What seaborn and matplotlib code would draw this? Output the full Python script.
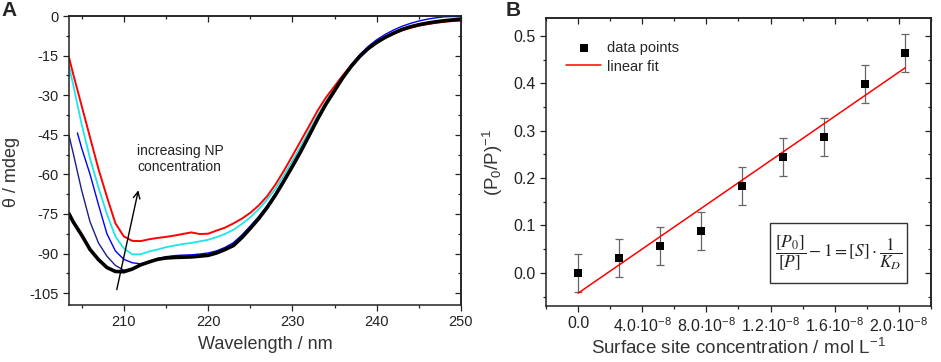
import numpy as np
import matplotlib
matplotlib.use("Agg")
import matplotlib.pyplot as plt
from matplotlib.patches import Rectangle
from matplotlib.ticker import MultipleLocator, FormatStrFormatter
import seaborn as sns

# ---- panel A: CD spectra ----
wavelength = [203.5] + list(range(204, 251))
wavelength_blue = [204.5] + list(range(205, 251))

theta_black = [-74.9, -78, -83, -88.5, -92.3, -95.3, -96.8, -96.9, -95.9, -94.3,
               -93.2, -92.2, -91.7, -91.5, -91.4, -91.3, -91.0, -90.7, -89.8, -88.5,
               -87.0, -84.0, -80.5, -76.8, -72.6, -67.8, -62.5, -57.0, -51.3, -45.2,
               -39.0, -33.3, -28.3, -23.3, -19.0, -15.3, -12.3, -10.0, -8.1, -6.5,
               -5.1, -4.1, -3.3, -2.7, -2.2, -1.8, -1.5, -1.3]
theta_navy = [-45.2, -52, -66, -78, -86, -91, -94.5, -96.3, -95.8, -94.2,
              -93.0, -92.0, -91.5, -91.3, -91.2, -91.1, -90.8, -90.5, -89.6, -88.3,
              -86.8, -83.8, -80.3, -76.6, -72.4, -67.6, -62.3, -56.8, -51.1, -45.0,
              -38.8, -33.1, -28.1, -23.1, -18.8, -15.1, -12.1, -9.8, -7.9, -6.3,
              -4.9, -3.9, -3.1, -2.5, -2.0, -1.6, -1.3, -1.1]
theta_blue = [-44.3, -50, -60, -71.5, -82.5, -89, -92.2, -93.5, -93.9, -93.0,
              -92.0, -91.2, -90.8, -90.6, -90.5, -90.2, -89.8, -89.0, -87.7, -85.9,
              -83.0, -79.6, -76.0, -71.9, -67.2, -61.9, -56.4, -50.7, -44.6, -38.6,
              -32.8, -27.6, -22.7, -18.3, -14.6, -11.5, -9.0, -7.0, -5.3, -3.9,
              -2.8, -1.9, -1.2, -0.7, -0.3, -0.2, -0.3]
theta_cyan = [-19.2, -26, -41, -54, -65, -75, -83.5, -88, -90.3, -90.3,
              -89.2, -88.5, -87.6, -87.0, -86.4, -86.0, -85.4, -84.8, -83.8, -82.6,
              -81.0, -78.8, -76.3, -73.2, -69.6, -65.4, -60.3, -54.9, -49.3, -43.4,
              -37.6, -32.3, -27.7, -23.0, -18.9, -15.2, -12.2, -9.9, -8.0, -6.4,
              -5.0, -4.0, -3.2, -2.6, -2.1, -1.7, -1.4, -1.2]
theta_red = [-15.7, -22, -34, -46, -58, -68.5, -78.5, -83.5, -85.2, -85.3,
             -84.6, -84.1, -83.7, -83.2, -82.6, -82.0, -82.6, -82.5, -81.3, -80.2,
             -78.6, -76.8, -74.6, -71.8, -68.3, -63.8, -58.6, -53.0, -47.3, -41.6,
             -35.8, -30.8, -26.6, -22.4, -18.6, -15.3, -12.5, -10.2, -8.3, -6.8,
             -5.5, -4.5, -3.7, -3.1, -2.6, -2.2, -1.9, -1.7]

# ---- panel B: binding plot (x in units of 1e-9 mol/L) ----
conc = [0.0, 2.58, 5.12, 7.64, 10.23, 12.77, 15.31, 17.87, 20.37]
ratio = [0.0, 0.031, 0.056, 0.088, 0.183, 0.244, 0.287, 0.399, 0.465]
ratio_err = [0.04, 0.04, 0.04, 0.04, 0.04, 0.04, 0.04, 0.04, 0.04]
fit_x = [0.0, 20.4]
fit_y = [-0.043, 0.433]
xtick_pos = [0, 4, 8, 12, 16, 20]
xtick_labels = ["0.0", r"4.0$\cdot$10$^{-8}$", r"8.0$\cdot$10$^{-8}$",
                r"1.2$\cdot$10$^{-8}$", r"1.6$\cdot$10$^{-8}$", r"2.0$\cdot$10$^{-8}$"]

sns.set_style("ticks")
plt.rcParams["font.family"] = ["Liberation Sans", "DejaVu Sans"]
plt.rcParams["mathtext.fontset"] = "custom"
plt.rcParams["mathtext.rm"] = "Liberation Sans"
plt.rcParams["mathtext.it"] = "Liberation Sans:italic"
plt.rcParams["mathtext.bf"] = "Liberation Sans:bold"
plt.rcParams["axes.unicode_minus"] = False
plt.rcParams["axes.linewidth"] = 1.1
plt.rcParams["axes.edgecolor"] = "#222222"

fig = plt.figure(figsize=(9.41, 3.62), dpi=100)
axA = fig.add_axes([0.0733, 0.1575, 0.4166, 0.7983])
axB = fig.add_axes([0.5802, 0.1547, 0.4091, 0.7956])

tc = "#222222"


def style_ticks(ax, xmaj, xmin, ymaj, ymin, size):
    ax.xaxis.set_major_locator(MultipleLocator(xmaj))
    ax.xaxis.set_minor_locator(MultipleLocator(xmin))
    ax.yaxis.set_major_locator(MultipleLocator(ymaj))
    ax.yaxis.set_minor_locator(MultipleLocator(ymin))
    ax.tick_params(which="major", direction="out", length=4.5, width=0.9,
                   labelsize=size, colors=tc, pad=3)
    ax.tick_params(which="minor", direction="out", length=2.5, width=0.9, colors=tc)
    # mirrored ticks pointing inwards on top / right
    top = ax.secondary_xaxis("top")
    top.xaxis.set_major_locator(MultipleLocator(xmaj))
    top.xaxis.set_minor_locator(MultipleLocator(xmin))
    top.tick_params(which="major", direction="in", length=4.5, width=0.9,
                    labeltop=False, colors=tc)
    top.tick_params(which="minor", direction="in", length=2.5, width=0.9, colors=tc)
    right = ax.secondary_yaxis("right")
    right.yaxis.set_major_locator(MultipleLocator(ymaj))
    right.yaxis.set_minor_locator(MultipleLocator(ymin))
    right.tick_params(which="major", direction="in", length=4.5, width=0.9,
                      labelright=False, colors=tc)
    right.tick_params(which="minor", direction="in", length=2.5, width=0.9, colors=tc)


# panel A
sns.lineplot(x=wavelength, y=theta_navy, ax=axA, color="#1c1c8a", lw=1.0)
sns.lineplot(x=wavelength_blue, y=theta_blue, ax=axA, color="#0000ff", lw=1.0)
sns.lineplot(x=wavelength, y=theta_cyan, ax=axA, color="#1ee6e6", lw=1.3)
sns.lineplot(x=wavelength, y=theta_red, ax=axA, color="#ff0000", lw=1.4)
sns.lineplot(x=wavelength, y=theta_black, ax=axA, color="black", lw=2.6)
axA.set_xlim(203.5, 250)
axA.set_ylim(-109.5, 0)
style_ticks(axA, 10, 5, 15, 7.5, 10.5)
axA.set_xlabel("Wavelength / nm", fontsize=13, color="#333333", labelpad=5)
axA.set_ylabel("θ / mdeg", fontsize=13, color="#333333")
axA.yaxis.set_label_coords(-0.125, 0.46)
axA.annotate("", xy=(211.8, -65), xytext=(209.1, -104.7),
             arrowprops=dict(arrowstyle="->", lw=1.0, color="black",
                             mutation_scale=12))
axA.text(211.6, -48.5, "increasing NP\nconcentration", fontsize=10,
         va="top", ha="left", color="#222222")

# panel B
axB.errorbar(conc, ratio, yerr=ratio_err, fmt="none", ecolor="#666666",
             elinewidth=0.9, capsize=3, capthick=0.9, zorder=2)
sns.lineplot(x=fit_x, y=fit_y, ax=axB, color="#ff0000", lw=1.1, label="linear fit",
             zorder=3)
sns.scatterplot(x=conc, y=ratio, ax=axB, marker="s", color="black", s=30,
                edgecolor="black", linewidth=0, label="data points", zorder=4)
axB.set_xlim(-2, 22)
axB.set_ylim(-0.07, 0.538)
style_ticks(axB, 4, 2, 0.1, 0.05, 11.5)
axB.set_xticks(xtick_pos)
axB.set_xticklabels(xtick_labels)
axB.yaxis.set_major_formatter(FormatStrFormatter("%.1f"))
axB.set_xlabel(r"Surface site concentration / mol L$^{-1}$", fontsize=13.5,
               color="#333333", labelpad=2)
axB.set_ylabel(r"(P$_0$/P)$^{-1}$", fontsize=13.5, color="#333333", labelpad=6)

handles, labels = axB.get_legend_handles_labels()
order = [labels.index("data points"), labels.index("linear fit")]
axB.legend([handles[i] for i in order], [labels[i] for i in order],
           loc="upper left", bbox_to_anchor=(0.015, 0.97), frameon=False,
           fontsize=10.5, handlelength=2.4, handletextpad=0.4,
           labelspacing=0.3, borderaxespad=0.6)

axB.add_patch(Rectangle((0.582, 0.08), 0.356, 0.208, transform=axB.transAxes,
                        fill=False, edgecolor="#333333", lw=1.0, zorder=5))
axB.text(0.76, 0.184,
         r"$\dfrac{\left[P_0\right]}{\left[P\right]}-1=\left[S\right]\cdot\dfrac{1}{K_D}$",
         transform=axB.transAxes, ha="center", va="center", fontsize=12.5,
         math_fontfamily="stix", color="#222222")

fig.text(0.002, 0.998, "A", fontsize=15, fontweight="bold", va="top", ha="left")
fig.text(0.537, 0.998, "B", fontsize=15, fontweight="bold", va="top", ha="left")

fig.savefig("out.png", dpi=100)
